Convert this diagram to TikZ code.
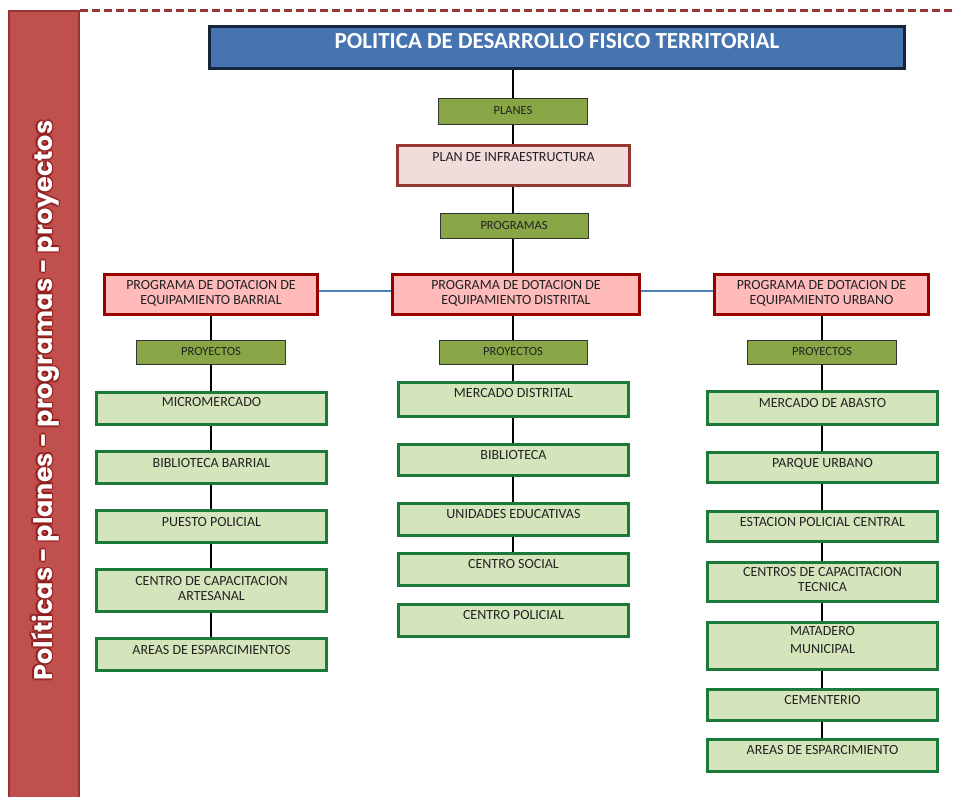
\documentclass[tikz,border=0pt]{standalone}
\usepackage{fontspec}
\setmainfont{Carlito}
\newfontfamily\sidefont{Poppins}
\usetikzlibrary{backgrounds}
\definecolor{barred}{HTML}{C0504D}
\definecolor{barline}{HTML}{943634}
\definecolor{dashred}{HTML}{953735}
\definecolor{glowred}{HTML}{8E1B1B}
\definecolor{titleblue}{HTML}{4674B0}
\definecolor{titleline}{HTML}{17253A}
\definecolor{olivefill}{HTML}{88A646}
\definecolor{planfill}{HTML}{F2DCDB}
\definecolor{progfill}{HTML}{FFBABA}
\definecolor{progline}{HTML}{990000}
\definecolor{projfill}{HTML}{D5E5BB}
\definecolor{projline}{HTML}{1B7A3A}
\definecolor{linkblue}{HTML}{4F81BD}
\definecolor{txt}{HTML}{222222}
\newcommand{\tb}[4]{\parbox[c][#2pt][t]{#1pt}{\centering\vspace*{#3pt}#4\par}}
\newcommand{\sidetext}{Políticas - planes - programas - proyectos}
\tikzset{
  base/.style={inner sep=0pt, outer sep=0pt, text=txt},
  titlebox/.style={base, draw=titleline, fill=titleblue, line width=3pt, text=white, font=\fontsize{23}{26}\selectfont\bfseries},
  tagbox/.style={base, draw=black!80, fill=olivefill, line width=0.8pt, font=\fontsize{12.5}{14}\selectfont},
  planbox/.style={base, draw=dashred, fill=planfill, line width=3pt, font=\fontsize{14}{15}\selectfont},
  progbox/.style={base, draw=progline, fill=progfill, line width=3pt, font=\fontsize{14}{15}\selectfont},
  projbox/.style={base, draw=projline, fill=projfill, line width=3pt, font=\fontsize{14}{15}\selectfont},
  link/.style={draw=black, line width=2pt},
  blink/.style={draw=linkblue, line width=1.8pt},
  sidestyle/.style={rotate=90, inner sep=0pt, font=\sidefont\bfseries\fontsize{25.5}{28}\selectfont},
}
\begin{document}
\begin{tikzpicture}[x=1pt, y=-1pt]
\useasboundingbox (0,0) rectangle (953,796);
% side bar
\draw[fill=barred, draw=barline, line width=2pt] (9,11) rectangle (79,800);
\coordinate (bartr) at (80,10.3);
\coordinate (dashend) at (953,10.3);
\draw[dashred, line width=3pt, dash pattern=on 8pt off 4pt] (bartr) -- (dashend);
\coordinate (sidec) at (45,400.5);
\foreach \i/\dx/\dy in {1/1.8/0, 2/-1.8/0, 3/0/1.8, 4/0/-1.8, 5/1.3/1.3, 6/-1.3/1.3, 7/1.3/-1.3, 8/-1.3/-1.3}
  \node[sidestyle, text=glowred, opacity=0.55] (glow\i) at ([shift={(\dx,\dy)}]sidec) {\sidetext};
\node[sidestyle, text=white] (side) at (sidec) {\sidetext};

% top chain
\node[titlebox] (title) at (557,47.5) {\tb{695}{42}{6.8}{POLITICA DE DESARROLLO FISICO TERRITORIAL}};
\node[tagbox] (planes) at (513,111.5) {\tb{149}{26}{8}{PLANES}};
\node[planbox] (plan) at (513.5,165.5) {\tb{232}{40}{6.5}{PLAN DE INFRAESTRUCTURA}};
\node[tagbox] (programas) at (514,226) {\tb{148}{25}{7.5}{PROGRAMAS}};

% programs
\node[progbox] (prL) at (211,294.5) {\tb{213}{40}{6.2}{PROGRAMA DE DOTACION DE\\EQUIPAMIENTO BARRIAL}};
\node[progbox] (prM) at (516,294.5) {\tb{247}{40}{6.2}{PROGRAMA DE DOTACION DE\\EQUIPAMIENTO DISTRITAL}};
\node[progbox] (prR) at (821.5,294.5) {\tb{214}{40}{6.2}{PROGRAMA DE DOTACION DE\\EQUIPAMIENTO URBANO}};

% proyectos tags
\node[tagbox] (pyL) at (211,352.5) {\tb{149}{24}{6.8}{PROYECTOS}};
\node[tagbox] (pyM) at (513,352.5) {\tb{148}{24}{6.8}{PROYECTOS}};
\node[tagbox] (pyR) at (822,352.5) {\tb{149}{24}{6.8}{PROYECTOS}};

% left column
\node[projbox] (L1) at (211.5,408.5) {\tb{230}{32}{5.2}{MICROMERCADO}};
\node[projbox] (L2) at (211.5,467.5) {\tb{230}{32}{6.8}{BIBLIOTECA BARRIAL}};
\node[projbox] (L3) at (211.5,526.5) {\tb{230}{32}{6.8}{PUESTO POLICIAL}};
\node[projbox] (L4) at (211.5,590.5) {\tb{230}{42}{6.5}{CENTRO DE CAPACITACION\\ARTESANAL}};
\node[projbox] (L5) at (211.5,654.5) {\tb{230}{32}{6.5}{AREAS DE ESPARCIMIENTOS}};

% middle column
\node[projbox] (M1) at (513.5,399.5) {\tb{230}{34}{5.8}{MERCADO DISTRITAL}};
\node[projbox] (M2) at (513.5,460) {\tb{230}{31}{5.5}{BIBLIOTECA}};
\node[projbox] (M3) at (513.5,519.5) {\tb{230}{32}{5.5}{UNIDADES EDUCATIVAS}};
\node[projbox] (M4) at (513.5,569.5) {\tb{230}{32}{5.8}{CENTRO SOCIAL}};
\node[projbox] (M5) at (513.5,620.5) {\tb{230}{32}{5.5}{CENTRO POLICIAL}};

% right column
\node[projbox] (R1) at (822.5,408) {\tb{230}{33}{6.8}{MERCADO DE ABASTO}};
\node[projbox] (R2) at (822.5,467.5) {\tb{230}{30}{5.8}{PARQUE URBANO}};
\node[projbox] (R3) at (822.5,526.5) {\tb{230}{30}{5.8}{ESTACION POLICIAL CENTRAL}};
\node[projbox] (R4) at (822.5,582) {\tb{230}{39}{4.8}{CENTROS DE CAPACITACION\\TECNICA}};
\node[projbox] (R5) at (822.5,646) {\tb{230}{47}{4.2}{\fontsize{14}{18}\selectfont MATADERO\\MUNICIPAL}};
\node[projbox] (R6) at (822.5,705) {\tb{230}{31}{5.5}{CEMENTERIO}};
\node[projbox] (R7) at (822.5,755.5) {\tb{230}{32}{6.2}{AREAS DE ESPARCIMIENTO}};

\begin{scope}[on background layer]
  \draw[link] (planes |- title) -- (planes |- prM);
  \draw[link] (pyL |- prL) -- (pyL |- L5);
  \draw[link] (pyM |- prM) -- (pyM |- M4);
  \draw[link] (pyR |- prR) -- (pyR |- R7);
  \draw[blink] ([yshift=3.8pt]prL.east) -- ([yshift=3.8pt]prM.west);
  \draw[blink] ([yshift=3.8pt]prM.east) -- ([yshift=3.8pt]prR.west);
\end{scope}
\end{tikzpicture}
\end{document}
